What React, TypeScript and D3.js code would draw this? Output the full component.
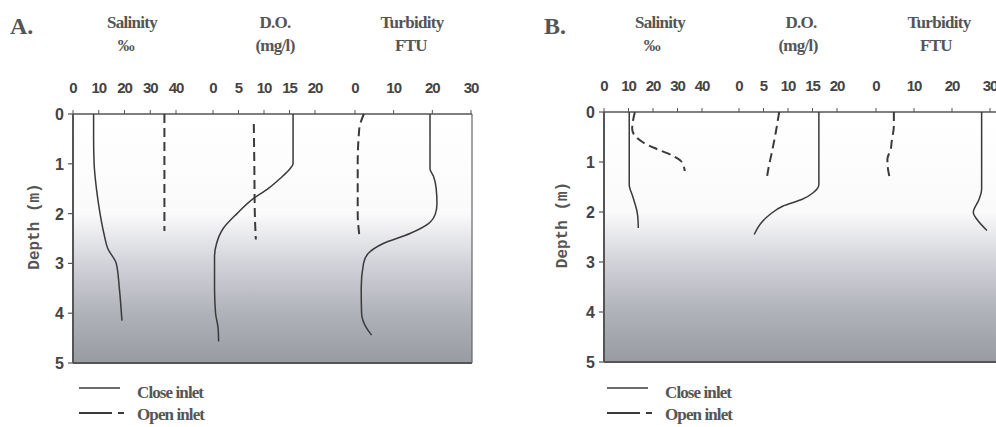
import React from "react";
import * as d3 from "d3";

// ---------- data ----------
const depthTicks = [0, 1, 2, 3, 4, 5];
const salinityTicks = [0, 10, 20, 30, 40];
const doTicks = [0, 5, 10, 15, 20];
const turbidityTicks = [0, 10, 20, 30];

const headerTitles = ["Salinity", "D.O.", "Turbidity"];
const headerUnits = ["‰", "(mg/l)", "FTU"];
const legendLabels = ["Close inlet", "Open inlet"];

// Panel A
const aSalCloseDepth = [0, 0.5, 1, 1.5, 2, 2.4, 2.7, 3, 3.5, 4, 4.15];
const aSalClose = [8, 8, 8.2, 9.1, 10.5, 12, 13.5, 16.8, 18, 18.8, 19];
const aSalOpenDepth = [0, 2.35];
const aSalOpen = [35.5, 35.5];
const aDoCloseDepth = [0, 0.5, 1, 1.1, 1.3, 1.5, 1.7, 2, 2.3, 2.6, 2.85, 3.5, 4, 4.3, 4.57];
const aDoClose = [15.7, 15.7, 15.7, 15.1, 13.1, 10.8, 7.9, 4.7, 2.0, 0.7, 0.3, 0.3, 0.5, 1.0, 1.1];
const aDoOpenDepth = [0.2, 1, 2, 2.52];
const aDoOpen = [8.0, 8.1, 8.2, 8.4];
const aTurbCloseDepth = [0, 0.5, 1.1, 1.25, 1.5, 1.8, 2, 2.2, 2.4, 2.6, 2.8, 3, 3.5, 4, 4.3, 4.44];
const aTurbClose = [19.4, 19.4, 19.4, 20.3, 21.0, 21.2, 20.8, 19, 14.2, 7.3, 3.4, 2.2, 1.6, 1.7, 3.0, 4.3];
const aTurbOpenDepth = [0, 0.3, 1, 2, 2.42];
const aTurbOpen = [2.3, 1.1, 0.7, 0.7, 1.1];

// Panel B
const bSalCloseDepth = [0, 1.45, 1.7, 1.95, 2.1, 2.32];
const bSalClose = [10.3, 10.3, 11.8, 13.3, 13.8, 14];
const bSalOpenDepth = [0, 0.34, 0.48, 0.61, 0.74, 0.88, 0.98, 1.18];
const bSalOpen = [12.6, 11.5, 12.7, 16, 21.5, 28.3, 31.4, 33];
const bDoCloseDepth = [0, 1.45, 1.61, 1.75, 1.88, 2.05, 2.21, 2.45];
const bDoClose = [16.3, 16.3, 15.2, 12.8, 9.0, 6.3, 4.6, 3.1];
const bDoOpenDepth = [0, 0.41, 0.81, 1.08, 1.31];
const bDoOpen = [8.2, 7.5, 6.7, 6.1, 5.7];
const bTurbCloseDepth = [0, 1.55, 1.75, 2.01, 2.15, 2.37];
const bTurbClose = [27.8, 27.8, 27.1, 25.6, 26.6, 29.2];
const bTurbOpenDepth = [0, 0.27, 0.61, 0.74, 0.94, 1.11, 1.28];
const bTurbOpen = [4.7, 4.7, 4.1, 3.9, 3.0, 3.1, 3.5];

// ---------- layout ----------
type Layout = {
  id: string;
  letter: string;
  letterX: number;
  left: number;
  right: number;
  top: number;
  bottom: number;
  bands: [number, number][];
  headerX: number[];
  unitX: number[];
  depthLabelX: number;
  legendX: number;
  showRight: boolean;
};

const panels: { layout: Layout; series: { depth: number[]; vals: number[]; band: number; dashed: boolean }[] }[] = [
  {
    layout: {
      id: "A",
      letter: "A.",
      letterX: 10,
      left: 73,
      right: 472,
      top: 114,
      bottom: 363,
      bands: [[73, 176], [213, 315], [355, 471]],
      headerX: [132, 275, 412],
      unitX: [126, 275, 411],
      depthLabelX: 39,
      legendX: 79,
      showRight: true,
    },
    series: [
      { depth: aSalCloseDepth, vals: aSalClose, band: 0, dashed: false },
      { depth: aSalOpenDepth, vals: aSalOpen, band: 0, dashed: true },
      { depth: aDoCloseDepth, vals: aDoClose, band: 1, dashed: false },
      { depth: aDoOpenDepth, vals: aDoOpen, band: 1, dashed: true },
      { depth: aTurbCloseDepth, vals: aTurbClose, band: 2, dashed: false },
      { depth: aTurbOpenDepth, vals: aTurbOpen, band: 2, dashed: true },
    ],
  },
  {
    layout: {
      id: "B",
      letter: "B.",
      letterX: 544,
      left: 604,
      right: 1002,
      top: 112,
      bottom: 362,
      bands: [[604, 702], [739, 837], [876, 990]],
      headerX: [660, 801, 939],
      unitX: [652, 798, 936],
      depthLabelX: 567,
      legendX: 607,
      showRight: false,
    },
    series: [
      { depth: bSalCloseDepth, vals: bSalClose, band: 0, dashed: false },
      { depth: bSalOpenDepth, vals: bSalOpen, band: 0, dashed: true },
      { depth: bDoCloseDepth, vals: bDoClose, band: 1, dashed: false },
      { depth: bDoOpenDepth, vals: bDoOpen, band: 1, dashed: true },
      { depth: bTurbCloseDepth, vals: bTurbClose, band: 2, dashed: false },
      { depth: bTurbOpenDepth, vals: bTurbOpen, band: 2, dashed: true },
    ],
  },
];

const bandTicks = [salinityTicks, doTicks, turbidityTicks];
const bandDomains: [number, number][] = [[0, 40], [0, 20], [0, 30]];

const serif = "'Liberation Serif', 'DejaVu Serif', serif";
const narrow = "'Liberation Sans Narrow', 'Liberation Sans', Arial, sans-serif";
const ink = "#3a3a3a";

function Panel({ layout, series }: (typeof panels)[number]) {
  const y = d3.scaleLinear().domain([0, 5]).range([layout.top, layout.bottom]);
  const xs = layout.bands.map((r, i) => d3.scaleLinear().domain(bandDomains[i]).range(r));
  const gradId = "grad" + layout.id;
  const clipId = "clip" + layout.id;
  return (
    <g>
      <defs>
        <linearGradient id={gradId} x1="0" y1="0" x2="0" y2="1">
          <stop offset="0" stopColor="#ffffff" />
          <stop offset="0.4" stopColor="#fafafb" />
          <stop offset="0.6" stopColor="#d2d3d9" />
          <stop offset="0.8" stopColor="#b0b2b9" />
          <stop offset="1" stopColor="#999ba3" />
        </linearGradient>
        <clipPath id={clipId}>
          <rect x={layout.left} y={layout.top - 6} width={layout.right - layout.left} height={layout.bottom - layout.top + 6} />
        </clipPath>
      </defs>
      <rect
        x={layout.left}
        y={layout.top}
        width={layout.right - layout.left}
        height={layout.bottom - layout.top}
        fill={`url(#${gradId})`}
      />
      {/* frame */}
      <line x1={layout.left} x2={layout.right} y1={layout.top} y2={layout.top} stroke="#555" strokeWidth={1.3} />
      <line x1={layout.left} x2={layout.right} y1={layout.bottom} y2={layout.bottom} stroke="#555" strokeWidth={2} />
      <line x1={layout.left} x2={layout.left} y1={layout.top} y2={layout.bottom} stroke="#555" strokeWidth={2} />
      {layout.showRight && (
        <line x1={layout.right} x2={layout.right} y1={layout.top} y2={layout.bottom} stroke="#666" strokeWidth={1.2} />
      )}
      {/* depth axis */}
      {depthTicks.map((t) => (
        <g key={"d" + t}>
          <line x1={layout.left - 5} x2={layout.left} y1={y(t)} y2={y(t)} stroke="#555" strokeWidth={1.2} />
          <text
            x={layout.left - 9}
            y={y(t) + 6}
            textAnchor="end"
            fontFamily={narrow}
            fontWeight="bold"
            fontSize={16}
            fill="#444"
          >
            {t}
          </text>
        </g>
      ))}
      <text
        transform={`translate(${layout.depthLabelX},${(layout.top + layout.bottom) / 2 - 12}) rotate(-90)`}
        textAnchor="middle"
        fontFamily="'Liberation Mono', 'DejaVu Sans Mono', monospace"
        fontWeight="bold"
        fontSize={16}
        fill="#555"
      >
        Depth (m)
      </text>
      {/* top axes */}
      {xs.map((x, i) => (
        <g key={"b" + i}>
          {bandTicks[i].map((t) => (
            <g key={t}>
              <line x1={x(t)} x2={x(t)} y1={layout.top - 4} y2={layout.top} stroke="#555" strokeWidth={1} />
              <text
                x={x(t)}
                y={layout.top - 21}
                textAnchor="middle"
                fontFamily={narrow}
                fontWeight="bold"
                fontSize={15}
                fill="#444"
                letterSpacing={-1}
              >
                {t}
              </text>
            </g>
          ))}
          <text
            x={layout.headerX[i]}
            y={28}
            textAnchor="middle"
            fontFamily={serif}
            fontWeight="bold"
            fontSize={17}
            fill="#555"
            letterSpacing={-0.7}
          >
            {headerTitles[i]}
          </text>
          <text
            x={layout.unitX[i]}
            y={51}
            textAnchor="middle"
            fontFamily={serif}
            fontWeight="bold"
            fontSize={17}
            fill="#555"
            letterSpacing={-0.7}
          >
            {headerUnits[i]}
          </text>
        </g>
      ))}
      <text x={layout.letterX} y={34} fontFamily={serif} fontWeight="bold" fontSize={24} fill="#555">
        {layout.letter}
      </text>
      {/* profiles */}
      <g clipPath={`url(#${clipId})`}>
        {series.map((s, k) => {
          const x = xs[s.band];
          const line = d3
            .line<number>()
            .x((_, j) => x(s.vals[j]))
            .y((d) => y(d))
            .curve(d3.curveMonotoneY);
          return (
            <path
              key={k}
              d={line(s.depth) || ""}
              fill="none"
              stroke={ink}
              strokeWidth={s.dashed ? 2 : 1.5}
              strokeDasharray={s.dashed ? "9,5" : undefined}
            />
          );
        })}
      </g>
      {/* legend */}
      <line x1={layout.legendX} x2={layout.legendX + 41} y1={388} y2={388} stroke={ink} strokeWidth={1.6} />
      <text x={layout.legendX + 58} y={398} fontFamily={serif} fontWeight="bold" fontSize={17} fill="#555" letterSpacing={-0.9}>
        {legendLabels[0]}
      </text>
      <line
        x1={layout.legendX}
        x2={layout.legendX + 46}
        y1={413}
        y2={413}
        stroke={ink}
        strokeWidth={2}
        strokeDasharray="33,6,6,100"
      />
      <text x={layout.legendX + 58} y={420} fontFamily={serif} fontWeight="bold" fontSize={17} fill="#555" letterSpacing={-0.9}>
        {legendLabels[1]}
      </text>
    </g>
  );
}

export default function App() {
  return (
    <svg
      width={996}
      height={427}
      viewBox="0 0 996 427"
      style={{ position: "absolute", left: 0, top: 0, background: "#fff" }}
    >
      <rect x={0} y={0} width={996} height={427} fill="#fff" />
      {panels.map((p) => (
        <Panel key={p.layout.id} {...p} />
      ))}
    </svg>
  );
}
